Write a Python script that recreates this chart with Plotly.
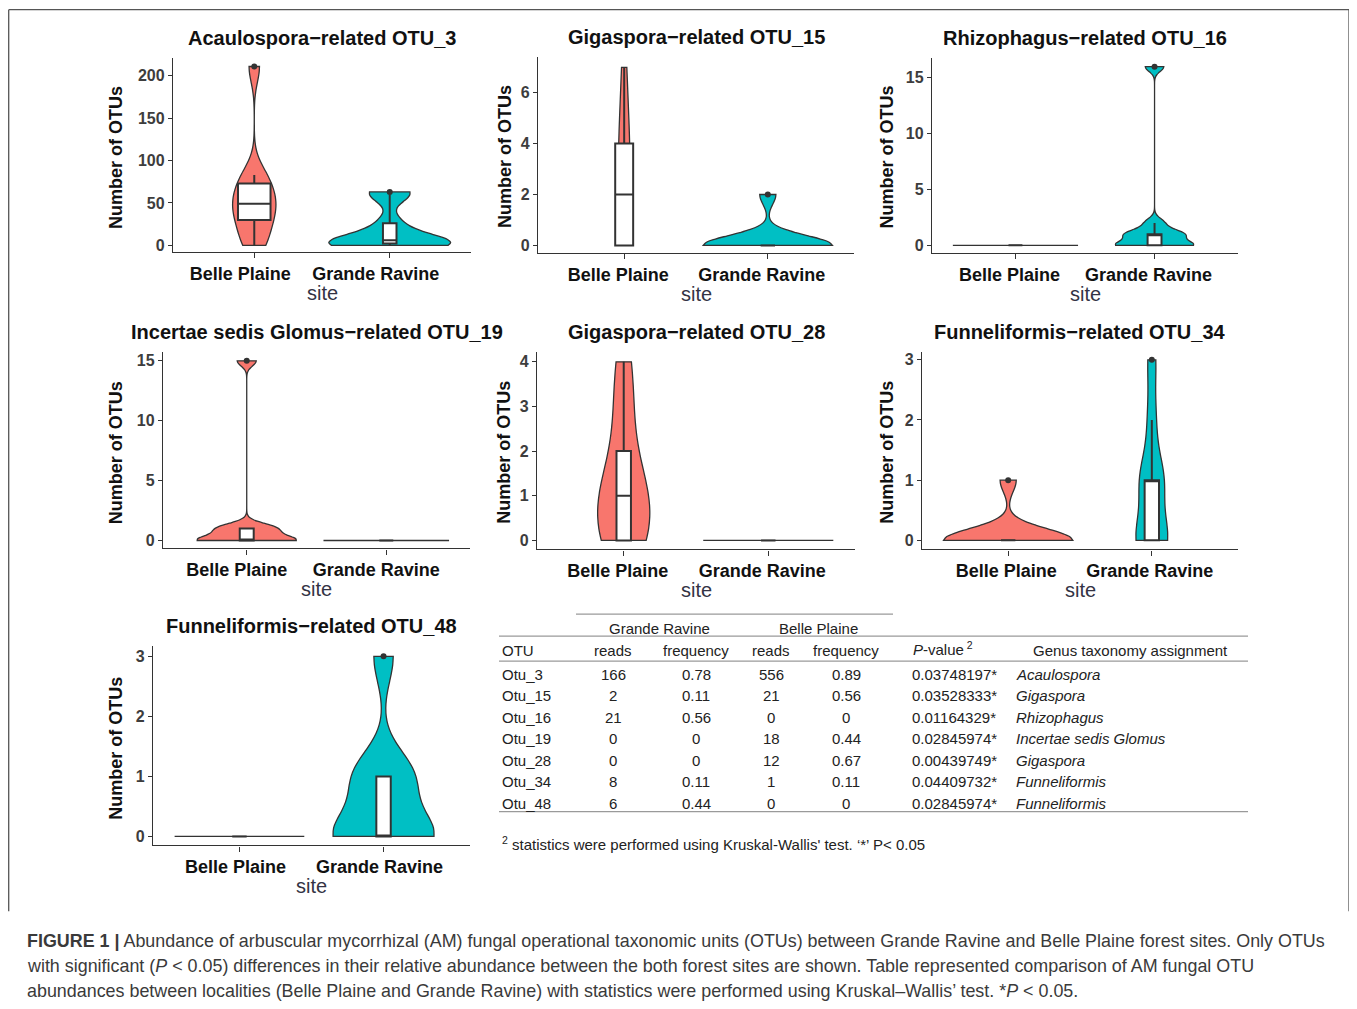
import numpy as np
import plotly.graph_objects as go

# the page body has an 8px margin, so the figure starts at (8, 8)
OFF = 8
W, H = 1357 - OFF, 1009 - OFF

# ---------------- data ----------------
SITES = ["Belle Plaine", "Grande Ravine"]

panel_titles = [
    "Acaulospora\u2212related OTU_3",
    "Gigaspora\u2212related OTU_15",
    "Rhizophagus\u2212related OTU_16",
    "Incertae sedis Glomus\u2212related OTU_19",
    "Gigaspora\u2212related OTU_28",
    "Funneliformis\u2212related OTU_34",
    "Funneliformis\u2212related OTU_48",
]

otu3_bp = [0, 12, 30, 40, 49, 58, 73, 83, 211]
otu3_gr = [0, 0, 2, 3, 6, 6, 26, 60, 63]
otu15_bp = [0, 0, 0, 0, 2, 3, 4, 5, 7]
otu15_gr = [0, 0, 0, 0, 0, 0, 0, 0, 2]
otu16_bp = [0, 0, 0, 0, 0, 0, 0, 0, 0]
otu16_gr = [0, 0, 0, 0, 1, 1, 1, 2, 16]
otu19_bp = [0, 0, 0, 0, 0, 1, 1, 1, 15]
otu19_gr = [0, 0, 0, 0, 0, 0, 0, 0, 0]
otu28_bp = [0, 0, 0, 1, 1, 1, 2, 3, 4]
otu28_gr = [0, 0, 0, 0, 0, 0, 0, 0, 0]
otu34_bp = [0, 0, 0, 0, 0, 0, 0, 0, 1]
otu34_gr = [0, 0, 0, 0, 1, 1, 1, 2, 3]
otu48_bp = [0, 0, 0, 0, 0, 0, 0, 0, 0]
otu48_gr = [0, 0, 0, 0, 0, 1, 1, 1, 3]

panel_data = [
    (otu3_bp, otu3_gr), (otu15_bp, otu15_gr), (otu16_bp, otu16_gr),
    (otu19_bp, otu19_gr), (otu28_bp, otu28_gr), (otu34_bp, otu34_gr),
    (otu48_bp, otu48_gr),
]

y_tickvals = [
    [0, 50, 100, 150, 200], [0, 2, 4, 6], [0, 5, 10, 15], [0, 5, 10, 15],
    [0, 1, 2, 3, 4], [0, 1, 2, 3], [0, 1, 2, 3],
]

# table
tbl_otu = ["Otu_3", "Otu_15", "Otu_16", "Otu_19", "Otu_28", "Otu_34", "Otu_48"]
tbl_gr_reads = ["166", "2", "21", "0", "0", "8", "6"]
tbl_gr_freq = ["0.78", "0.11", "0.56", "0", "0", "0.11", "0.44"]
tbl_bp_reads = ["556", "21", "0", "18", "12", "1", "0"]
tbl_bp_freq = ["0.89", "0.56", "0", "0.44", "0.67", "0.11", "0"]
tbl_pvalue = ["0.03748197*", "0.03528333*", "0.01164329*", "0.02845974*",
              "0.00439749*", "0.04409732*", "0.02845974*"]
tbl_genus = ["Acaulospora", "Gigaspora", "Rhizophagus", "Incertae sedis Glomus",
             "Gigaspora", "Funneliformis", "Funneliformis"]

caption_lines = [
    "<b>FIGURE 1 |</b> Abundance of arbuscular mycorrhizal (AM) fungal operational taxonomic units (OTUs) between Grande Ravine and Belle Plaine forest sites. Only OTUs",
    "with significant (<i>P</i> &lt; 0.05) differences in their relative abundance between the both forest sites are shown. Table represented comparison of AM fungal OTU",
    "abundances between localities (Belle Plaine and Grande Ravine) with statistics were performed using Kruskal\u2013Wallis\u2019 test. *<i>P</i> &lt; 0.05.",
]

# ---------------- layout geometry (page pixels) ----------------
def fx(x):
    return (x - OFF) / W


def fy(y):
    return 1 - (y - OFF) / H


# x extent, y extent (top, bottom), y range, violin widths, box widths,
# x of the y-axis title, shift of x tick labels
panels = [
    dict(x=(173, 471), y=(57, 252), yr=(-8.2, 221.2), vw=(0.32, 0.9), bw=(0.24, 0.1), yt=116, ls=-14),
    dict(x=(538, 854), y=(56, 253), yr=(-0.31, 7.41), vw=(0.11, 0.9), bw=(0.125, 0.1), yt=505, ls=-6),
    dict(x=(932, 1238), y=(57, 253), yr=(-0.71, 16.79), vw=(0.9, 0.56), bw=(0.1, 0.1), yt=887, ls=-6),
    dict(x=(163, 470), y=(352, 549), yr=(-0.66, 15.74), vw=(0.71, 0.9), bw=(0.1, 0.1), yt=116, ls=-10),
    dict(x=(537, 855), y=(352, 550), yr=(-0.2, 4.22), vw=(0.36, 0.9), bw=(0.1, 0.1), yt=504, ls=-6),
    dict(x=(922, 1238), y=(352, 550), yr=(-0.15, 3.13), vw=(0.9, 0.22), bw=(0.1, 0.1), yt=887, ls=-2),
    dict(x=(153, 470), y=(647, 847), yr=(-0.15, 3.17), vw=(0.9, 0.7), bw=(0.1, 0.1), yt=116, ls=-4),
]

FILL = {"Belle Plaine": "#F8766D", "Grande Ravine": "#00BFC4"}
DARK = "#333333"
FONT = "Liberation Sans, Arial, sans-serif"


def nrd0(v):
    a = np.asarray(v, float)
    sd = a.std(ddof=1)
    q1, q3 = np.percentile(a, [25, 75])
    lo = min(sd, (q3 - q1) / 1.34)
    if lo == 0:
        lo = sd or abs(a[0]) or 1.0
    return 0.9 * lo * len(a) ** -0.2


fig = go.Figure()
layout_axes = {}
annotations = []

for i, (p, vals, title, tv) in enumerate(zip(panels, panel_data, panel_titles, y_tickvals)):
    n = i + 1
    xa = "x" if n == 1 else f"x{n}"
    ya = "y" if n == 1 else f"y{n}"
    for s, site in enumerate(SITES):
        v = vals[s]
        kw = {}
        if max(v) > min(v):
            kw["bandwidth"] = nrd0(v)
        fig.add_trace(go.Violin(
            x=[site] * len(v), y=v, xaxis=xa, yaxis=ya,
            fillcolor=FILL[site], line=dict(color=DARK, width=1.3),
            points=False, box_visible=False, meanline_visible=False,
            spanmode="hard", scalemode="width", scalegroup=f"g{n}{s}",
            width=p["vw"][s], opacity=1, showlegend=False, hoverinfo="skip",
            **kw,
        ))
    for s, site in enumerate(SITES):
        v = vals[s]
        fig.add_trace(go.Box(
            x=[site] * len(v), y=v, xaxis=xa, yaxis=ya,
            width=p["bw"][s], fillcolor="white",
            line=dict(color=DARK, width=2),
            marker=dict(color=DARK, size=6),
            boxpoints="outliers", jitter=0, pointpos=0, whiskerwidth=0,
            quartilemethod="inclusive", showlegend=False, hoverinfo="skip",
        ))

    x0, x1 = p["x"]
    yt, yb = p["y"]
    layout_axes["xaxis" if n == 1 else f"xaxis{n}"] = dict(
        domain=[fx(x0), fx(x1)], anchor=ya, type="category",
        categoryorder="array", categoryarray=SITES, range=[-0.6, 1.6],
        showline=True, linecolor=DARK, linewidth=1.4, ticks="outside",
        ticklen=5, tickwidth=1.2, tickcolor=DARK, showgrid=False, zeroline=False,
        ticklabelshift=p["ls"],
        tickfont=dict(family=FONT, size=18, color="#111111", weight="bold"),
        fixedrange=True,
    )
    layout_axes["yaxis" if n == 1 else f"yaxis{n}"] = dict(
        domain=[fy(yb), fy(yt)], anchor=xa, range=list(p["yr"]),
        tickvals=tv, showline=True, linecolor=DARK, linewidth=1.4,
        ticks="outside", ticklen=4, tickwidth=1.2, tickcolor=DARK,
        showgrid=False, zeroline=False,
        tickfont=dict(family=FONT, size=16, color="#3d3d3d", weight="bold"),
        fixedrange=True,
    )
    cx = (x0 + x1) / 2
    annotations.append(dict(
        text=f"<b>{title}</b>", x=fx(cx), y=fy(yt - 20), xref="paper", yref="paper",
        showarrow=False, xanchor="center", yanchor="middle",
        font=dict(family=FONT, size=20, color="#111111"),
    ))
    annotations.append(dict(
        text="site", x=fx(cx), y=fy(yb + 41), xref="paper", yref="paper",
        showarrow=False, xanchor="center", yanchor="middle",
        font=dict(family=FONT, size=20, color="#333344"),
    ))
    annotations.append(dict(
        text="<b>Number of OTUs</b>", x=fx(p["yt"]), y=fy((yt + yb) / 2 + 2),
        xref="paper", yref="paper", showarrow=False, textangle=-90,
        xanchor="center", yanchor="middle",
        font=dict(family=FONT, size=18, color="#111111"),
    ))

# ---------------- table ----------------
TFONT = dict(family=FONT, size=15, color="#222222")


def tann(text, x, y, anchor="center", italic=False):
    t = f"<i>{text}</i>" if italic else text
    annotations.append(dict(
        text=t, x=fx(x), y=fy(y), xref="paper", yref="paper", showarrow=False,
        xanchor=anchor, yanchor="middle", font=TFONT,
    ))


tann("Grande Ravine", 659, 629)
tann("Belle Plaine", 818, 629)
tann("OTU", 500, 651, "left")
tann("reads", 613, 651)
tann("frequency", 696, 651)
tann("reads", 771, 651)
tann("frequency", 846, 651)
tann("<i>P</i>-value<sup> 2</sup>", 943, 649)
tann("Genus taxonomy assignment", 1130, 651)

row_y = [676, 697, 719, 740, 762, 783, 805]
for k, ry in enumerate(row_y):
    tann(tbl_otu[k], 500, ry, "left")
    tann(tbl_gr_reads[k], 613, ry)
    tann(tbl_gr_freq[k], 696, ry)
    tann(tbl_bp_reads[k], 771, ry)
    tann(tbl_bp_freq[k], 846, ry)
    tann(tbl_pvalue[k], 954, ry)
    tann(tbl_genus[k], 1014, ry, "left", italic=True)

tann("<sup>2</sup> statistics were performed using Kruskal-Wallis' test. \u2018*\u2019 P&lt; 0.05",
     500, 845, "left")

shapes = []


def hline(x0, x1, y, color="#9a9a9a", w=1.2):
    shapes.append(dict(type="line", xref="paper", yref="paper",
                       x0=fx(x0), x1=fx(x1), y0=fy(y), y1=fy(y),
                       line=dict(color=color, width=w)))


hline(576, 893, 615)
hline(499, 1248, 637)
hline(499, 1248, 662)
hline(499, 1248, 813)

# frame around the figure panel
for (x0, y0, x1, y1) in [(8.7, 8.7, 1349, 8.7), (8.7, 8.7, 8.7, 913), (1349, 8.7, 1349, 913)]:
    shapes.append(dict(type="line", xref="paper", yref="paper",
                       x0=fx(x0), x1=fx(x1), y0=fy(y0), y1=fy(y1),
                       line=dict(color="#555555", width=1.3)))

# caption
for k, line in enumerate(caption_lines):
    annotations.append(dict(
        text=line, x=fx(25), y=fy(943 + 25 * k), xref="paper", yref="paper",
        showarrow=False, xanchor="left", yanchor="middle",
        font=dict(family=FONT, size=17.9, color="#3a3a3a"),
    ))

fig.update_layout(
    width=W, height=H, autosize=False,
    margin=dict(l=0, r=0, t=0, b=0, pad=0),
    paper_bgcolor="white", plot_bgcolor="white",
    violinmode="overlay", boxmode="overlay",
    showlegend=False, annotations=annotations, shapes=shapes,
    **layout_axes,
)

fig.write_html("out.html")
